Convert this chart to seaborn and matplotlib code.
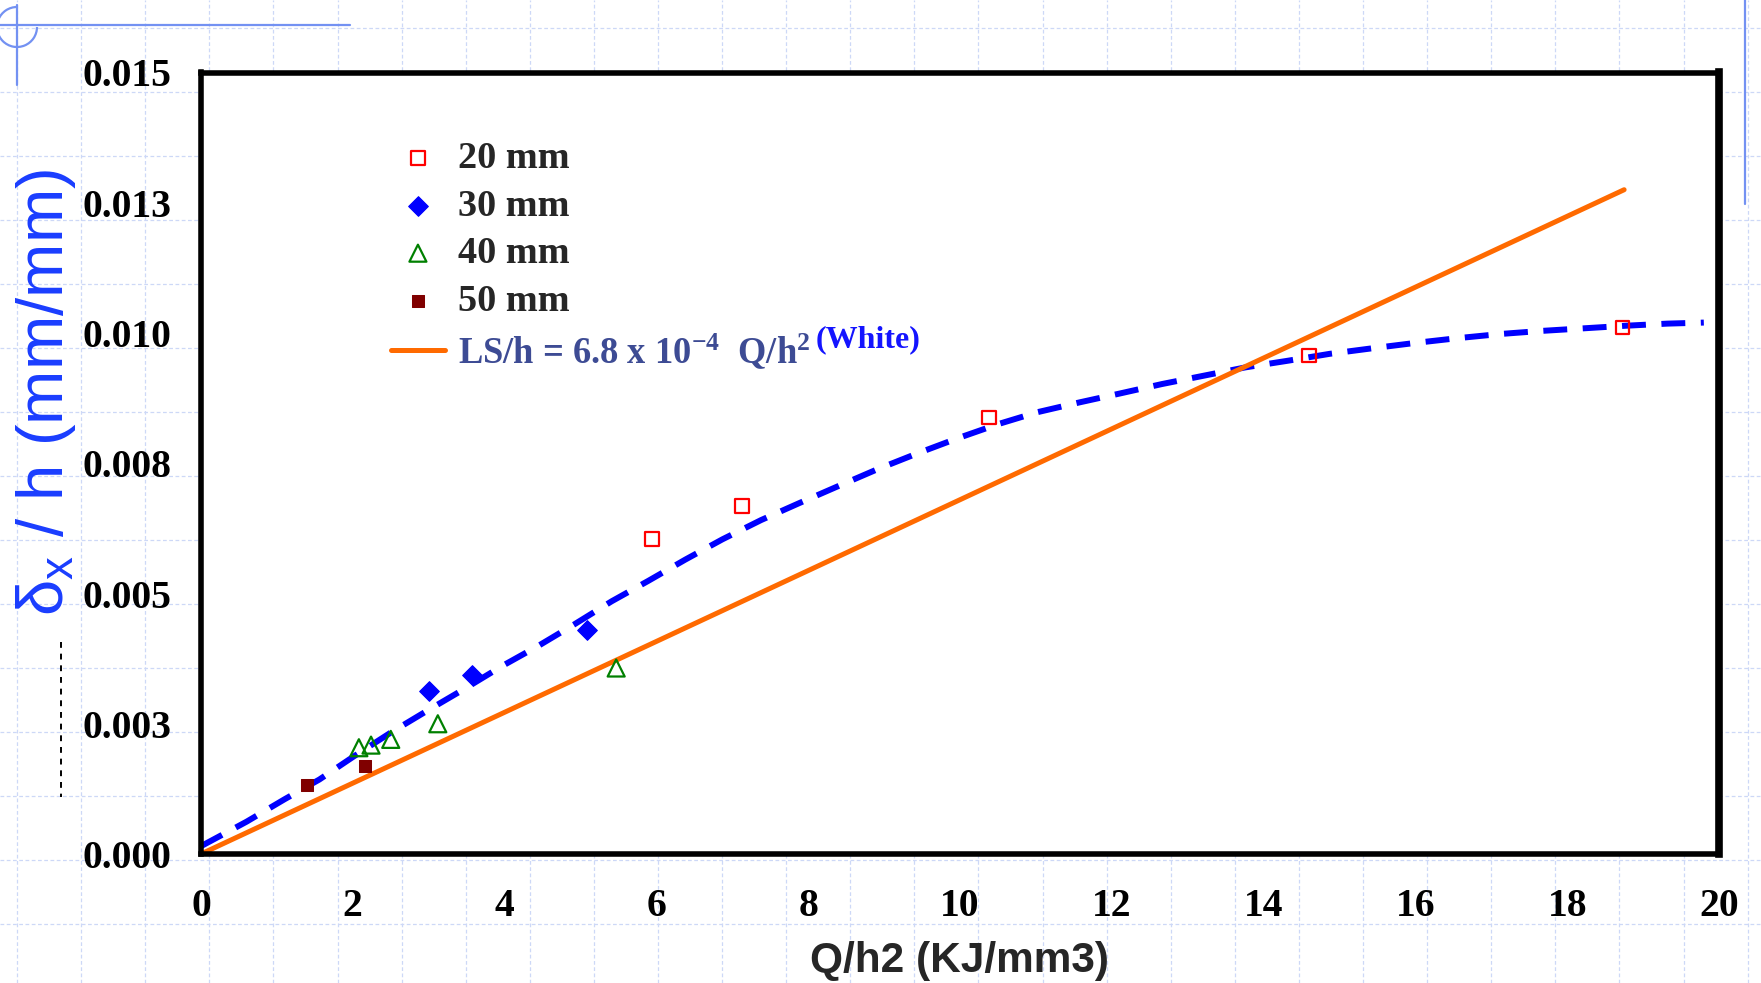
import numpy as np
import pandas as pd
import matplotlib
matplotlib.use('Agg')
import matplotlib.pyplot as plt
import seaborn as sns
from matplotlib.patches import Arc

# 读图得到的数据
x20 = [5.94, 7.13, 10.38, 14.6, 18.73]
y20 = [0.00605, 0.00668, 0.00838, 0.00957, 0.01011]
x30 = [3.0, 3.57, 5.09]
y30 = [0.00312, 0.00343, 0.0043]
x40 = [2.08, 2.24, 2.5, 3.12, 5.47]
y40 = [0.00204, 0.00209, 0.0022, 0.0025, 0.00357]
x50 = [1.4, 2.16]
y50 = [0.00132, 0.00169]

# 虚线趋势曲线 (沿图读点)
fit_x = [0, 0.6, 1.1, 1.56, 2.02, 2.5, 2.98, 3.46, 3.97, 4.45, 4.91, 5.41, 5.89,
         6.38, 6.87, 7.38, 7.89, 8.41, 8.92, 9.44, 9.97, 10.5, 11.02, 11.58, 12.11,
         12.66, 13.21, 13.76, 14.33, 14.87, 15.45, 16.0, 16.55, 17.11, 17.66, 18.22,
         18.78, 19.32, 19.8]
fit_y = [0.00015, 0.00062, 0.00105, 0.00143, 0.00188, 0.00233, 0.00275, 0.00316,
         0.00361, 0.004, 0.0044, 0.00485, 0.00524, 0.00565, 0.00604, 0.00641, 0.00674,
         0.00707, 0.00739, 0.00769, 0.00798, 0.00825, 0.00848, 0.00867, 0.00884,
         0.00902, 0.00918, 0.00934, 0.00947, 0.0096, 0.00971, 0.00981, 0.0099,
         0.00998, 0.01004, 0.01009, 0.01014, 0.01018, 0.0102]

# White 公式直线端点
white_x = [0, 18.75]
white_y = [0, 0.01275]

xticks = [0, 2, 4, 6, 8, 10, 12, 14, 16, 18, 20]
yticks = [0, 0.0025, 0.005, 0.0075, 0.01, 0.0125, 0.015]
ytick_labels = ['0.000', '0.003', '0.005', '0.008', '0.010', '0.013', '0.015']

sns.set_style('white')
plt.rcParams['font.family'] = ['Liberation Serif', 'DejaVu Serif']
plt.rcParams['font.weight'] = 'bold'
plt.rcParams['mathtext.default'] = 'regular'

W, H = 1761, 983
fig = plt.figure(figsize=(W / 100, H / 100), dpi=100)
fig.patch.set_facecolor('white')

# 背景方格纸和装饰线
bg = fig.add_axes([0, 0, 1, 1], zorder=-5)
bg.set_xlim(0, W)
bg.set_ylim(H, 0)
bg.axis('off')
grid_kw = dict(color='#cdd8f7', lw=0.9, ls=(0, (3, 2)))
for gx in np.arange(17, W, 64.1):
    bg.axvline(gx, **grid_kw)
for gy in np.arange(28, H, 64):
    bg.axhline(gy, **grid_kw)
deco = '#7391f2'
bg.plot([0, 350], [25, 25], color=deco, lw=1.6)
bg.plot([17, 17], [5, 85], color=deco, lw=1.6)
bg.add_patch(Arc((17, 27), 40, 40, theta1=0, theta2=270, color=deco, lw=1.6))
bg.plot([1745, 1745], [0, 204], color=deco, lw=1.6)
bg.plot([61, 61], [642, 797], color='black', lw=1.4, ls=(0, (3, 3)))

# 主图
ax = fig.add_axes([201 / W, 1 - 854 / H, 1518 / W, 781.5 / H])
ax.set_facecolor('white')

sns.lineplot(x=fit_x, y=fit_y, color='#0000ff', lw=4.3, linestyle=(0, (4, 2.6)),
             sort=False, ax=ax)
sns.lineplot(x=white_x, y=white_y, color='#ff6a00', lw=3.6,
             label='LS/h = 6.8 x 10$^{-4}$  Q/h$^{2}$', ax=ax)
sns.scatterplot(x=x20, y=y20, marker='s', s=95, facecolor='none', edgecolor='#ff0000',
                linewidth=1.6, label='20 mm', ax=ax, zorder=4)
sns.scatterplot(x=x30, y=y30, marker='D', s=100, color='#0000ff', edgecolor='#0000ff',
                label='30 mm', ax=ax, zorder=4)
sns.scatterplot(x=x40, y=y40, marker='^', s=150, facecolor='none', edgecolor='#008000',
                linewidth=1.6, label='40 mm', ax=ax, zorder=4)
sns.scatterplot(x=x50, y=y50, marker='s', s=85, color='#800000', edgecolor='#800000',
                label='50 mm', ax=ax, zorder=4)

ax.set_xlim(0, 20)
ax.set_ylim(0, 0.015)
ax.set_xticks(xticks)
ax.set_xticklabels([str(t) for t in xticks])
ax.set_yticks(yticks)
ax.set_yticklabels(ytick_labels)
ax.tick_params(axis='both', direction='out', length=8.5, width=1, colors='black',
               labelsize=28.5)
ax.tick_params(axis='y', pad=12.5)
ax.tick_params(axis='x', pad=16)
for s in ['left', 'top', 'bottom']:
    ax.spines[s].set_linewidth(4)
    ax.spines[s].set_color('black')
ax.spines['right'].set_linewidth(5.5)
ax.spines['right'].set_color('black')

ax.set_xlabel('Q/h2 (KJ/mm3)', family='Liberation Sans', fontsize=30.5,
              fontweight='bold', va='center')
ax.xaxis.set_label_coords(0.5, -0.137)
ax.set_ylabel('$\\mathregular{δ_x}$ / h (mm/mm)', family='Liberation Sans',
              fontsize=47, fontweight='normal', color='#1a3dff', va='center')
ax.yaxis.set_label_coords(-0.102, 0.59)

handles, labels = ax.get_legend_handles_labels()
order = ['20 mm', '30 mm', '40 mm', '50 mm', labels[0]]
hl = dict(zip(labels, handles))
leg = ax.legend([hl[k] for k in order], order, loc='upper left',
                bbox_to_anchor=(391 / W, 1 - 141 / H), bbox_transform=fig.transFigure,
                frameon=False, fontsize=27.5, handlelength=1.41, handletextpad=0.34,
                labelspacing=0.33, borderpad=0, borderaxespad=0)
for t in leg.get_texts():
    t.set_fontweight('bold')
leg.get_texts()[4].set_color('#3d4b94')
leg.get_texts()[4].set_fontsize(26.3)

fig.canvas.draw()
bb = leg.get_texts()[4].get_window_extent()
fig.text((bb.x1 + 5) / W, (bb.y1 + 6) / H, '(White)', fontsize=23, fontweight='bold',
         color='#1414ff', va='top', ha='left')

fig.savefig('out.png', dpi=100)
